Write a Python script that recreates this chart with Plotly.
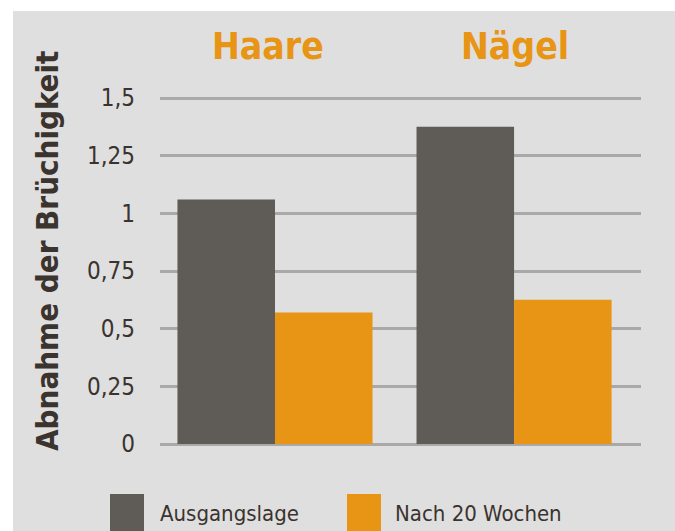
import plotly.graph_objects as go

categories = ["Haare", "Nägel"]
series_names = ["Ausgangslage", "Nach 20 Wochen"]
ausgangslage = [1.06, 1.375]
nach_20_wochen = [0.57, 0.625]
tick_vals = [0, 0.25, 0.5, 0.75, 1, 1.25, 1.5]
tick_text = ["0", "0,25", "0,5", "0,75", "1", "1,25", "1,5"]
y_title = "Abnahme der Brüchigkeit"

W, H = 675, 531
ML, MR, MT, MB = 160, 34, 93, 87
PW, PH = W - ML - MR, H - MT - MB
Y_TOP = (H - MB - MT) / ((H - MB - 98) / 1.5)  # so that 1.5 sits at y=98px

def px_x(p):
    return (p - ML) / PW

def px_y(p):
    return (H - MB - p) / PH

GRAY = "#5f5b56"
ORANGE = "#e89414"
BG = "#dfdfdf"
TXT = "#3a332e"
FONT = "Liberation Sans Narrow, DejaVu Sans Condensed, Arial Narrow, sans-serif"

fig = go.Figure()
fig.add_trace(go.Bar(x=categories, y=ausgangslage, name=series_names[0],
                     marker=dict(color=GRAY, line=dict(width=0)), showlegend=False))
fig.add_trace(go.Bar(x=categories, y=nach_20_wochen, name=series_names[1],
                     marker=dict(color=ORANGE, line=dict(width=0)), showlegend=False))

shapes = [
    dict(type="rect", xref="paper", yref="paper", x0=px_x(0), x1=px_x(W), y0=px_y(0), y1=px_y(11),
         fillcolor="white", line=dict(width=0), layer="below"),
    dict(type="rect", xref="paper", yref="paper", x0=px_x(0), x1=px_x(13), y0=px_y(H), y1=px_y(0),
         fillcolor="white", line=dict(width=0), layer="below"),
]
annotations = []
title_shift = [-7, 1]
for i, cat in enumerate(categories):
    annotations.append(dict(x=cat, y=px_y(47), xref="x", yref="paper", text="<b>%s</b>" % cat,
                            showarrow=False, font=dict(size=37, color=ORANGE, family=FONT),
                            xanchor="center", yanchor="middle", xshift=title_shift[i]))
annotations.append(dict(x=px_x(47), y=px_y(251), xref="paper", yref="paper", text="<b>%s</b>" % y_title,
                        textangle=-90, showarrow=False, font=dict(size=31, color=TXT, family=FONT),
                        xanchor="center", yanchor="middle"))

legend_colors = [GRAY, ORANGE]
legend_box_x = [110, 347]
legend_text_x = [158, 393]
for i, name in enumerate(series_names):
    shapes.append(dict(type="rect", xref="paper", yref="paper",
                       x0=px_x(legend_box_x[i]), x1=px_x(legend_box_x[i] + 34),
                       y0=px_y(H + 5), y1=px_y(494), fillcolor=legend_colors[i], line=dict(width=0)))
    annotations.append(dict(x=px_x(legend_text_x[i]), y=px_y(513), xref="paper", yref="paper",
                            text=name, showarrow=False, xanchor="left", yanchor="middle",
                            font=dict(size=22, color=TXT, family=FONT)))

fig.update_layout(
    width=W, height=H,
    margin=dict(l=ML, r=MR, t=MT, b=MB, autoexpand=False),
    paper_bgcolor=BG, plot_bgcolor=BG,
    barmode="group", bargap=0.184, bargroupgap=0,
    xaxis=dict(range=[-0.481, 1.531], showticklabels=False, showgrid=False, zeroline=False,
               showline=False, ticks=""),
    yaxis=dict(range=[0, Y_TOP], tickvals=tick_vals, ticktext=tick_text, showgrid=True,
               gridcolor="#a9a9a9", gridwidth=2.5, zeroline=True, zerolinecolor="#a9a9a9",
               zerolinewidth=2.5, showline=False, ticks="", ticklabelstandoff=24,
               tickfont=dict(size=24, color=TXT, family=FONT)),
    shapes=shapes, annotations=annotations, showlegend=False,
)
fig.write_html("out.html", config={"displayModeBar": False},
               post_script="document.body.style.margin='0';document.body.style.overflow='hidden';")
